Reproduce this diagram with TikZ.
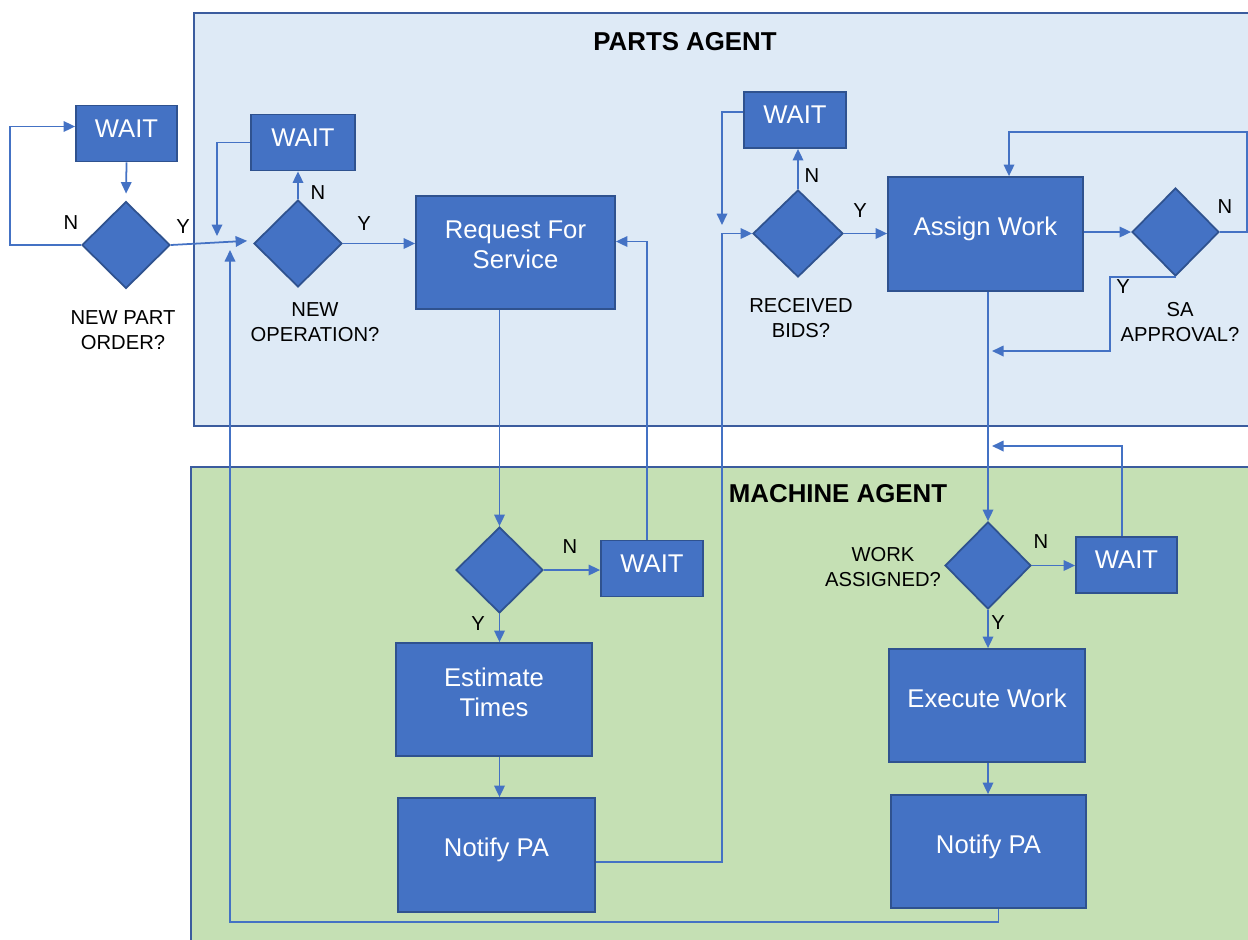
\documentclass[tikz,border=0pt]{standalone}
\usepackage{fontspec}
\setsansfont{Liberation Sans}
\usetikzlibrary{
    arrows.meta,
    positioning,
    calc,
    shapes.geometric
}
\definecolor{boxblue}{HTML}{4472C4}
\definecolor{boxedge}{HTML}{2F528F}
\definecolor{paneledge}{HTML}{3B5C9E}
\definecolor{partsfill}{HTML}{DEEAF6}
\definecolor{machinefill}{HTML}{C5E0B4}
\tikzset{
    % --- Task block (white text on blue rectangle) ---
    task block/.style = {
        rectangle, draw=boxedge, fill=boxblue, line width=1pt,
        minimum width=3.92cm, minimum height=2.26cm,
        text=white, align=center, text depth=0.3cm,
        font=\sffamily\fontsize{14.6}{17}\selectfont
    },
    % --- Small wait block ---
    wait block/.style = {
        task block, minimum width=2.04cm, minimum height=1.12cm,
        text depth=0.2cm
    },
    % --- Decision diamond (no text inside) ---
    decision/.style = {
        diamond, draw=boxedge, fill=boxblue, line width=1pt,
        minimum width=1.76cm, minimum height=1.74cm, inner sep=0pt
    },
    % --- Question printed next to a diamond ---
    question/.style = {
        align=center, font=\sffamily\fontsize{11.5}{14.2}\selectfont
    },
    % --- Y / N branch label ---
    branch/.style = {
        font=\sffamily\fontsize{11.5}{13}\selectfont
    },
    % --- Agent panel ---
    panel/.style = {
        draw=paneledge, line width=1pt
    },
    % --- Panel title ---
    panel title/.style = {
        font=\sffamily\bfseries\fontsize{14.7}{17}\selectfont
    },
    % --- Flow arrow ---
    flow arrow/.style = {
        -{Triangle[length=2.3mm, width=2.1mm]}, draw=boxblue, line width=1pt
    }
}

\begin{document}
\begin{tikzpicture}[font=\sffamily]

\useasboundingbox (0,0) rectangle (24.96,-18.78);

% ---------------------------------------------------------
% Agent panels
% ---------------------------------------------------------
\draw[panel, fill=partsfill] (3.88,-0.26) rectangle (25.04,-8.52);
\draw[panel, fill=machinefill] (3.82,-9.34) rectangle (25.04,-18.90);

\node[panel title] (PartsTitle) at (13.70,-0.84) {PARTS AGENT};
\node[panel title] (MachineTitle) at (16.76,-9.88) {MACHINE AGENT};

% ---------------------------------------------------------
% New part order (outside the panels)
% ---------------------------------------------------------
\node[wait block, minimum width=2.02cm] (WaitOrder) at (2.53,-2.67) {WAIT};
\node[decision] (DecOrder) at (2.52,-4.90) {};
\node[question] (QOrder) at (2.46,-6.60) {NEW PART\\ORDER?};
\node[branch] (NOrder) at (1.42,-4.46) {N};
\node[branch] (YOrder) at (3.66,-4.54) {Y};

\coordinate (OrderLoop) at (0.20,-2.53);

\draw[flow arrow, shorten >=0.14cm] (WaitOrder.south) -- (DecOrder.north);
\draw[flow arrow] (DecOrder.west) -| (OrderLoop) -- ([yshift=0.14cm]WaitOrder.west);

% ---------------------------------------------------------
% Parts agent: new operation
% ---------------------------------------------------------
\node[wait block, minimum width=2.08cm] (WaitOp) at (6.06,-2.85) {WAIT};
\node[decision] (DecOp) at (5.96,-4.87) {};
\node[question] (QOp) at (6.30,-6.44) {NEW\\OPERATION?};
\node[branch] (NOp) at (6.36,-3.86) {N};
\node[branch] (YOp) at (7.28,-4.48) {Y};

\node[task block, minimum width=3.98cm] (ReqService) at (10.31,-5.05) {Request For\\Service};

\coordinate (OpJoin) at (4.34,-4.72);
\coordinate (RetTurn) at (4.60,-18.44);
\coordinate (RetEnd) at (4.60,-5.00);

\draw[flow arrow, shorten >=0.12cm] (DecOrder.east) -- ([yshift=0.06cm]DecOp.west);
\draw[flow arrow] (DecOp.north) -- (DecOp.north |- WaitOp.south);
\draw[flow arrow] (WaitOp.west) -| (OpJoin);
\draw[flow arrow] (DecOp.east) -- (DecOp.east -| ReqService.west);

% ---------------------------------------------------------
% Machine agent: estimate times
% ---------------------------------------------------------
\node[decision, minimum width=1.74cm, minimum height=1.72cm] (DecReq) at (9.99,-11.40) {};
\node[branch] (NReq) at (11.40,-10.94) {N};
\node[branch] (YReq) at (9.56,-12.48) {Y};
\node[wait block] (WaitReq) at (13.04,-11.37) {WAIT};

\node[task block] (EstTimes) at (9.88,-13.99) {Estimate\\Times};
\node[task block, minimum width=3.94cm, minimum height=2.28cm] (NotifyOne) at (9.93,-17.10) {Notify PA};

\draw[flow arrow] (ReqService.south -| DecReq.north) -- (DecReq.north);
\draw[flow arrow] (DecReq.east) -- (WaitReq.west |- DecReq.east);
\draw[flow arrow] ([xshift=-0.1cm]WaitReq.north) |- ([yshift=0.22cm]ReqService.east);
\draw[flow arrow] (DecReq.south) -- (DecReq.south |- EstTimes.north);
\draw[flow arrow] (DecReq.south |- EstTimes.south) -- (DecReq.south |- NotifyOne.north);

% ---------------------------------------------------------
% Parts agent: received bids, assign work
% ---------------------------------------------------------
\node[wait block] (WaitBids) at (15.90,-2.40) {WAIT};
\node[decision, minimum width=1.80cm] (DecBids) at (15.96,-4.67) {};
\node[question] (QBids) at (16.02,-6.36) {RECEIVED\\BIDS?};
\node[branch] (NBids) at (16.24,-3.52) {N};
\node[branch] (YBids) at (17.20,-4.22) {Y};

\node[task block, minimum width=3.90cm, minimum height=2.28cm] (AssignWork) at (19.71,-4.68) {Assign Work};

\node[decision, minimum width=1.74cm, minimum height=1.76cm] (DecSA) at (23.51,-4.64) {};
\node[question] (QSA) at (23.60,-6.44) {SA\\APPROVAL?};
\node[branch] (NSA) at (24.50,-4.14) {N};
\node[branch] (YSA) at (22.46,-5.74) {Y};

\coordinate (BidsRise) at (14.44,-4.67);
\coordinate (BidsJoin) at (14.44,-4.50);
\coordinate (SALoop) at (24.94,-2.64);
\coordinate (SAYTurn) at (22.20,-7.02);
\coordinate (SAYEnd) at (19.84,-7.02);

\draw[flow arrow] ([yshift=-0.14cm]NotifyOne.east) -| (BidsRise) -- (DecBids.west);
\draw[flow arrow] ([yshift=0.16cm]WaitBids.west) -| (BidsJoin);
\draw[flow arrow] (DecBids.north) -- (DecBids.north |- WaitBids.south);
\draw[flow arrow] (DecBids.east) -- (DecBids.east -| AssignWork.west);
\draw[flow arrow] (AssignWork.east |- DecSA.west) -- (DecSA.west);
\draw[flow arrow] (DecSA.east) -| (SALoop) -| ([xshift=0.47cm]AssignWork.north);
\draw[flow arrow] (DecSA.south) -| (SAYTurn) -- (SAYEnd);

% ---------------------------------------------------------
% Machine agent: work assigned, execute work
% ---------------------------------------------------------
\node[decision, minimum width=1.72cm] (DecAssigned) at (19.76,-11.31) {};
\node[question] (QAssigned) at (17.66,-11.34) {WORK\\ASSIGNED?};
\node[branch] (NAssigned) at (20.82,-10.84) {N};
\node[branch] (YAssigned) at (19.96,-12.46) {Y};
\node[wait block, minimum width=2.02cm] (WaitAssigned) at (22.53,-11.30) {WAIT};

\node[task block] (ExecWork) at (19.74,-14.11) {Execute Work};
\node[task block, minimum width=3.90cm] (NotifyTwo) at (19.77,-17.03) {Notify PA};

\coordinate (WAEnd) at (19.84,-8.92);

\draw[flow arrow] (AssignWork.south -| DecAssigned.north) -- (DecAssigned.north);
\draw[flow arrow] (DecAssigned.east) -- (DecAssigned.east -| WaitAssigned.west);
\draw[flow arrow] ([xshift=-0.09cm]WaitAssigned.north) |- (WAEnd);
\draw[flow arrow] (DecAssigned.south) -- (DecAssigned.south |- ExecWork.north);
\draw[flow arrow] (DecAssigned.south |- ExecWork.south) -- (DecAssigned.south |- NotifyTwo.north);

% Return to new operation
\draw[flow arrow] ([xshift=0.2cm]NotifyTwo.south) |- (RetTurn) -- (RetEnd);

\end{tikzpicture}
\end{document}
